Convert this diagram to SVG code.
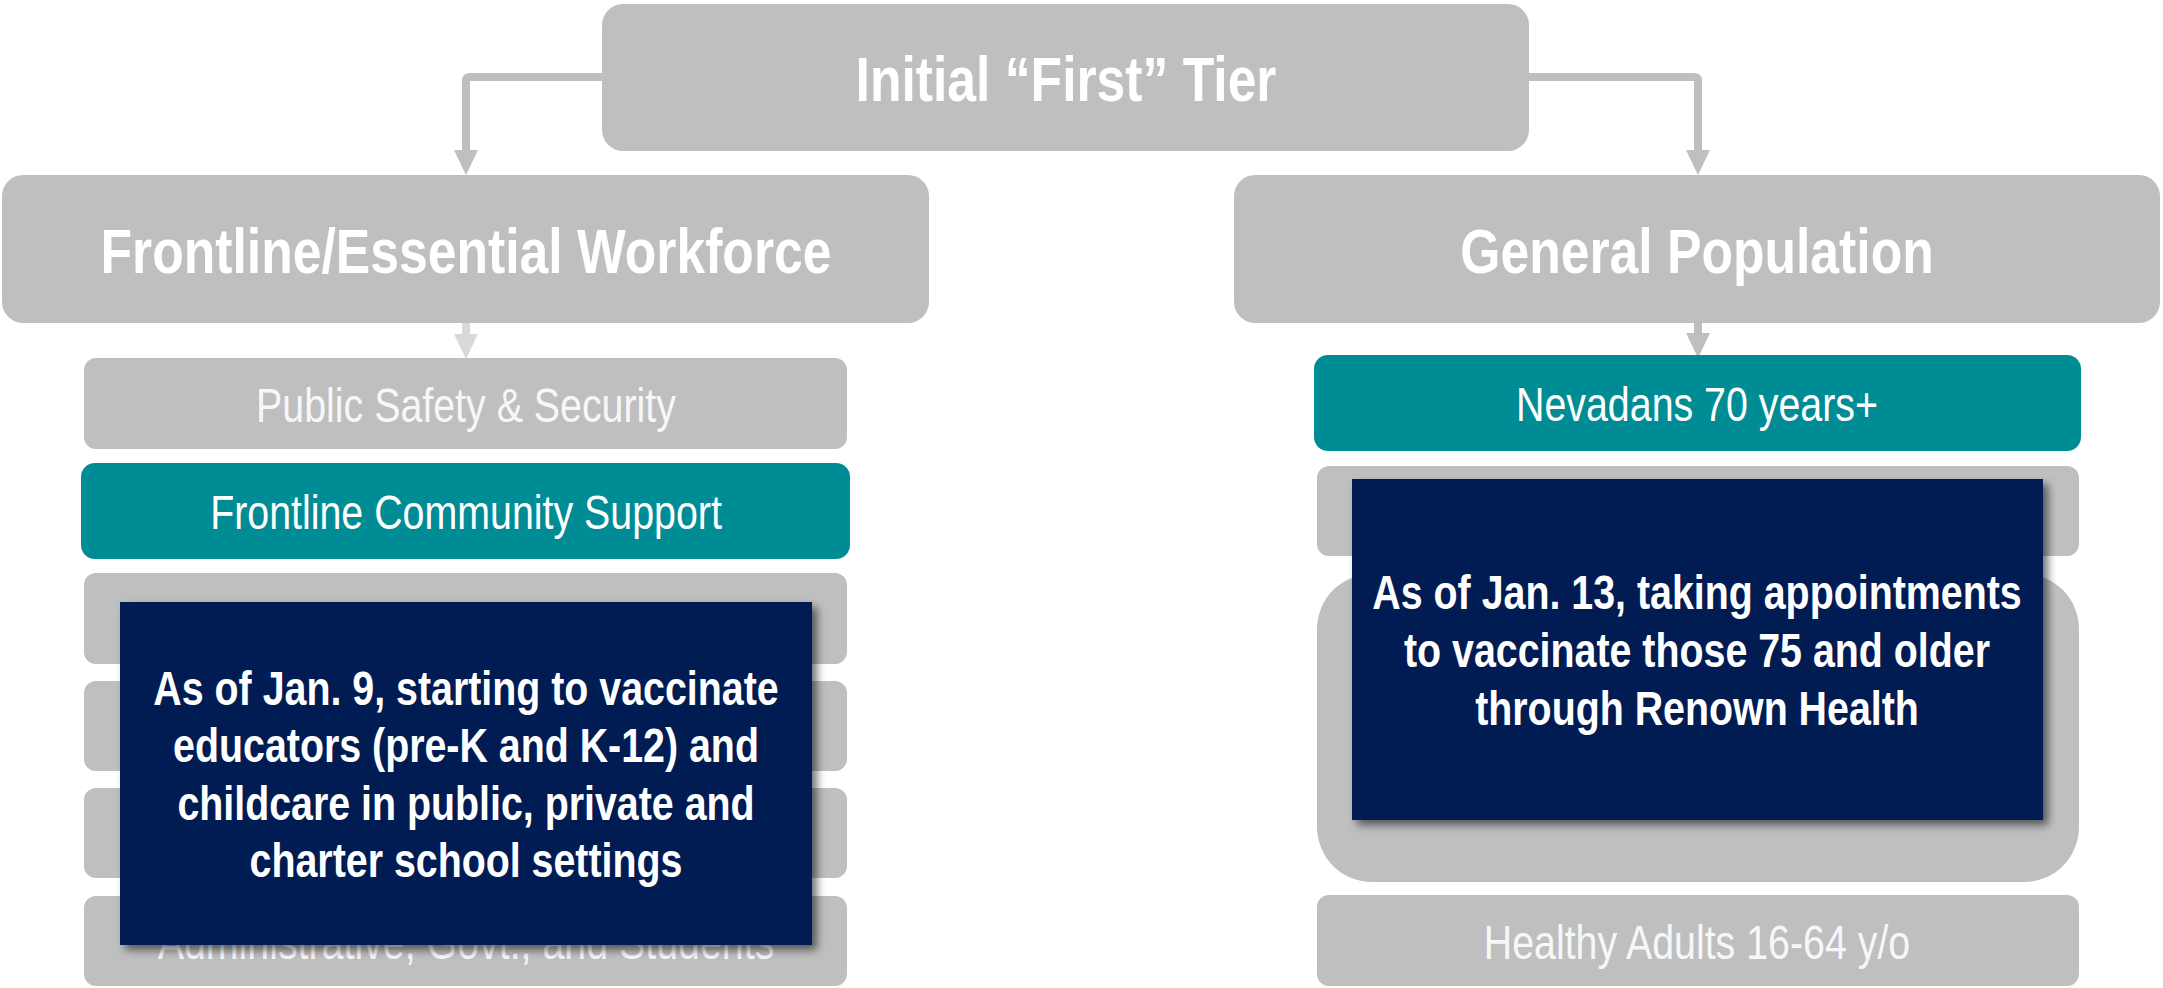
<svg xmlns="http://www.w3.org/2000/svg" width="2163" height="988" viewBox="0 0 2163 988">
<style>
.g{fill:#bfbfbf}
.t{fill:#008c95}
.n{fill:#031f52;filter:url(#sh)}
.hd{font-family:"Liberation Sans",Arial,sans-serif;font-weight:bold;font-size:63px;fill:#ffffff;text-anchor:middle}
.sub{font-family:"Liberation Sans",Arial,sans-serif;font-size:48px;fill:#f7f7f7;text-anchor:middle}
.bx{font-family:"Liberation Sans",Arial,sans-serif;font-weight:bold;font-size:48px;fill:#ffffff;text-anchor:middle}
.c{fill:none;stroke:#bfbfbf;stroke-width:8;stroke-linejoin:round}
</style>
<defs>
<marker id="ah" viewBox="0 0 25 24" refX="0" refY="12" markerWidth="25" markerHeight="24" markerUnits="userSpaceOnUse" orient="auto"><path d="M0,0 L25,12 L0,24 z" fill="#bfbfbf"/></marker>
<marker id="ahl" viewBox="0 0 25 24" refX="0" refY="12" markerWidth="25" markerHeight="24" markerUnits="userSpaceOnUse" orient="auto"><path d="M0,0 L25,12 L0,24 z" fill="#d9d9d9"/></marker>
<filter id="sh" x="-10%" y="-10%" width="125%" height="125%"><feDropShadow dx="5" dy="5" stdDeviation="4" flood-color="#000" flood-opacity="0.55"/></filter>
</defs>
<g id="connectors">
<path class="c" d="M602,77 L470,77 Q466,77 466,81 L466,150" marker-end="url(#ah)"/>
<path class="c" d="M1529,77 L1694,77 Q1698,77 1698,81 L1698,150" marker-end="url(#ah)"/>
<path class="c" d="M466,323 L466,334" style="stroke:#d9d9d9" marker-end="url(#ahl)"/>
<path class="c" d="M1698,323 L1698,333" marker-end="url(#ah)"/>
</g>
<g id="tier">
<rect class="g" x="602" y="4" width="927" height="147" rx="21"/>
<text class="hd" transform="matrix(0.82,0,0,1,1066,101)">Initial “First” Tier</text>
</g>
<g id="frontline">
<rect class="g" x="2" y="175" width="927" height="148" rx="21"/>
<text class="hd" transform="matrix(0.82,0,0,1,466,273)">Frontline/Essential Workforce</text>
</g>
<g id="general">
<rect class="g" x="1234" y="175" width="926" height="148" rx="21"/>
<text class="hd" transform="matrix(0.82,0,0,1,1697,273)">General Population</text>
</g>
<g id="public-safety">
<rect class="g" x="84" y="358" width="763" height="91" rx="12"/>
<text class="sub" transform="matrix(0.82,0,0,1,466,422)">Public Safety &amp; Security</text>
</g>
<g id="community-support">
<rect class="t" x="81" y="463" width="769" height="96" rx="14"/>
<text class="sub" transform="matrix(0.82,0,0,1,466,529)" style="fill:#ffffff">Frontline Community Support</text>
</g>
<g id="left-box-3"><rect class="g" x="84" y="573" width="763" height="91" rx="12"/></g>
<g id="left-box-4"><rect class="g" x="84" y="681" width="763" height="90" rx="12"/></g>
<g id="left-box-5"><rect class="g" x="84" y="788" width="763" height="90" rx="12"/></g>
<g id="admin">
<rect class="g" x="84" y="896" width="763" height="90" rx="12"/>
<text class="sub" transform="matrix(0.82,0,0,1,466,959)">Administrative, Govt., and Students</text>
</g>
<g id="educators-note">
<rect class="n" x="120" y="602" width="692" height="343"/>
<text class="bx" transform="matrix(0.82,0,0,1,466,705)">As of Jan. 9, starting to vaccinate</text>
<text class="bx" transform="matrix(0.82,0,0,1,466,762)">educators (pre-K and K-12) and</text>
<text class="bx" transform="matrix(0.82,0,0,1,466,820)">childcare in public, private and</text>
<text class="bx" transform="matrix(0.82,0,0,1,466,877)">charter school settings</text>
</g>
<g id="nevadans">
<rect class="t" x="1314" y="355" width="767" height="96" rx="14"/>
<text class="sub" transform="matrix(0.82,0,0,1,1697,421)" style="fill:#ffffff">Nevadans 70 years+</text>
</g>
<g id="right-box-2"><rect class="g" x="1317" y="466" width="762" height="90" rx="12"/></g>
<g id="right-box-3"><rect class="g" x="1317" y="574" width="762" height="308" rx="55"/></g>
<g id="healthy">
<rect class="g" x="1317" y="895" width="762" height="91" rx="12"/>
<text class="sub" transform="matrix(0.82,0,0,1,1697,959)">Healthy Adults 16-64 y/o</text>
</g>
<g id="seniors-note">
<rect class="n" x="1352" y="479" width="691" height="341"/>
<text class="bx" transform="matrix(0.82,0,0,1,1697,609)">As of Jan. 13, taking appointments</text>
<text class="bx" transform="matrix(0.82,0,0,1,1697,667)">to vaccinate those 75 and older</text>
<text class="bx" transform="matrix(0.82,0,0,1,1697,725)">through Renown Health</text>
</g>
</svg>
